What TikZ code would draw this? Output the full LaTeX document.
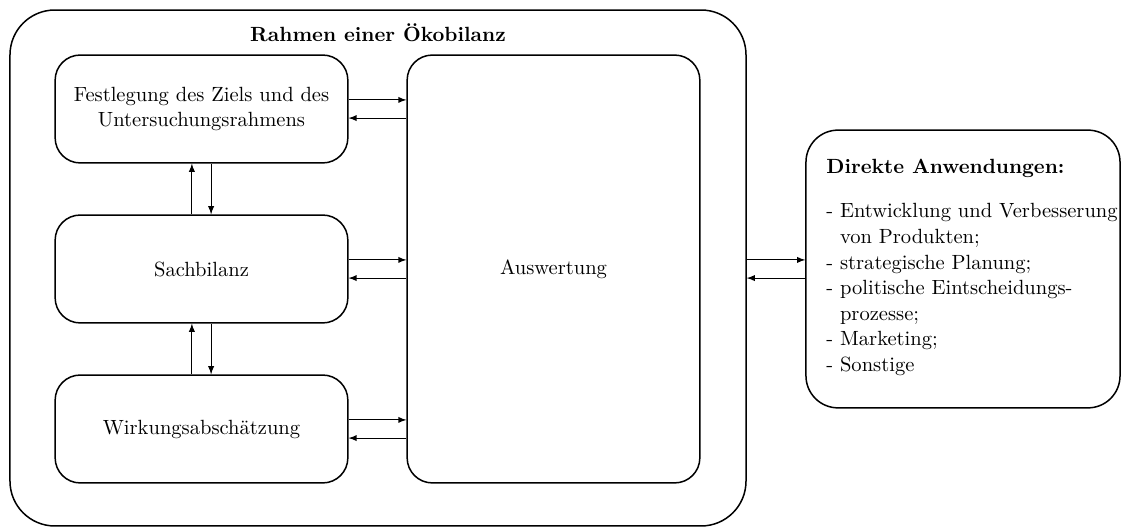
\documentclass[tikz,border=0pt,11pt]{standalone}
\usepackage{amsmath}
\usepackage{tikz}
\usetikzlibrary{positioning}

\tikzset{
	phase/.style={rectangle, draw, line width=0.8pt, rounded corners=0.47cm, minimum width=5.48cm, minimum height=2.02cm, align=center},
	link/.style={-latex, line width=0.5pt}
}

\begin{document}
\begin{tikzpicture}[x=0.018717cm, y=-0.018717cm]
	\useasboundingbox (0,0) rectangle (1122,527);
	% Nodes
	\node[draw, line width=0.8pt, rounded corners=0.84cm, minimum width=13.78cm, minimum height=9.66cm] (rahmen) at (378,268) {};
	\node[font=\bfseries, below=0.13cm of rahmen.north] (titel) {Rahmen einer Ökobilanz};
	\node[phase] (ziel) at (201.5,109) {Festlegung des Ziels und des\\Untersuchungsrahmens};
	\node[phase] (sach) at (201.5,269) {Sachbilanz};
	\node[phase] (wirk) at (201.5,429) {Wirkungsabschätzung};
	\node[draw, line width=0.8pt, rounded corners=0.47cm, minimum width=5.48cm, minimum height=8.01cm] (ausw) at (553.5,269) {Auswertung};
	\node[draw, line width=0.8pt, rounded corners=0.6cm, minimum width=5.88cm, minimum height=5.2cm] (anw) at (963,269) {};
	\node[align=left, anchor=north west, inner sep=0pt] (anwtext) at (826,159) {\textbf{Direkte Anwendungen:}\\[0.35cm]
		- Entwicklung und Verbesserung\\
		\hphantom{- }von Produkten;\\
		- strategische Planung;\\
		- politische Eintscheidungs-\\
		\hphantom{- }prozesse;\\
		- Marketing;\\
		- Sonstige};
	% Connections
	\foreach \b in {ziel,sach,wirk} {
		\draw[link] ([yshift=0.17cm]\b.east) -- ([yshift=0.17cm]\b.east -| ausw.west);
		\draw[link] ([yshift=-0.17cm]\b.east -| ausw.west) -- ([yshift=-0.17cm]\b.east);
	}
	\draw[link] ([xshift=-0.18cm]sach.north) -- ([xshift=-0.18cm]ziel.south);
	\draw[link] ([xshift=0.18cm]ziel.south) -- ([xshift=0.18cm]sach.north);
	\draw[link] ([xshift=-0.18cm]wirk.north) -- ([xshift=-0.18cm]sach.south);
	\draw[link] ([xshift=0.18cm]sach.south) -- ([xshift=0.18cm]wirk.north);
	\draw[link] ([yshift=0.17cm]anw.west -| rahmen.east) -- ([yshift=0.17cm]anw.west);
	\draw[link] ([yshift=-0.17cm]anw.west) -- ([yshift=-0.17cm]anw.west -| rahmen.east);
\end{tikzpicture}
\end{document}
